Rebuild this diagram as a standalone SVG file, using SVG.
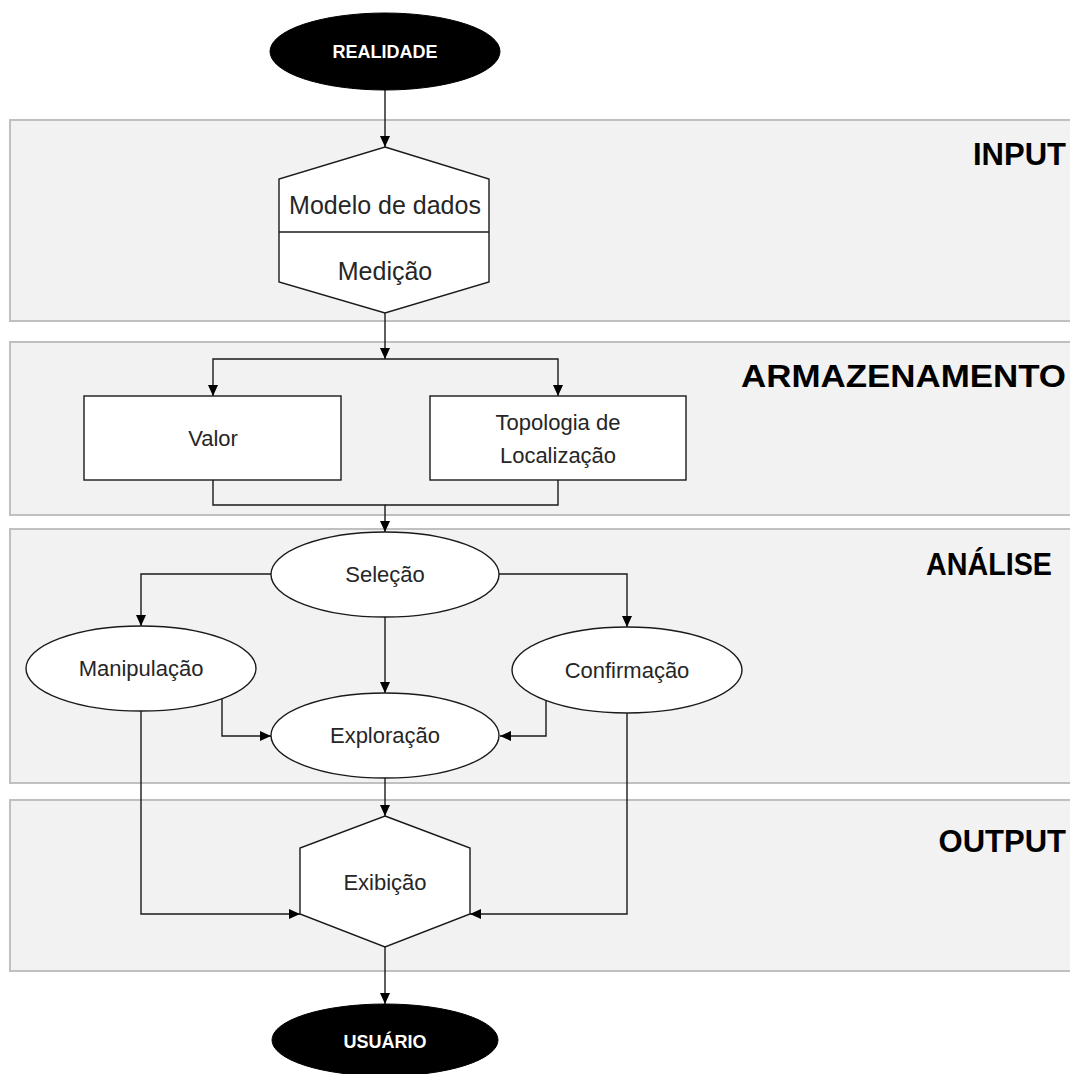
<svg xmlns="http://www.w3.org/2000/svg" width="1070" height="1074" viewBox="0 0 1070 1074">
<style>
.band{fill:#f2f2f2;stroke:#c0c0c0;stroke-width:2}
.node{fill:#ffffff;stroke:#1a1a1a;stroke-width:1.4}
.term{fill:#000000;stroke:#000000;stroke-width:1}
.lbl{font-family:"Liberation Sans",Arial,sans-serif;font-size:22px;fill:#262626;text-anchor:middle}
.big{font-family:"Liberation Sans",Arial,sans-serif;font-size:25px;fill:#262626;text-anchor:middle}
.term-t{font-family:"Liberation Sans",Arial,sans-serif;font-size:18px;font-weight:bold;fill:#ffffff;text-anchor:middle}
.title{font-family:"Liberation Sans",Arial,sans-serif;font-size:31px;font-weight:bold;fill:#000000;text-anchor:end}
.conn path{fill:none;stroke:#1a1a1a;stroke-width:1.4}
</style>
<defs>
<marker id="arr" markerUnits="userSpaceOnUse" markerWidth="11" markerHeight="10" refX="11" refY="5" orient="auto">
<path d="M0,0 L11,5 L0,10 z" fill="#000000"/>
</marker>
</defs>
<rect width="1070" height="1074" fill="#ffffff"/>
<g id="bands">
<g id="band-input"><rect class="band" x="10" y="120" width="1070" height="201"/><text class="title" x="1066" y="165">INPUT</text></g>
<g id="band-armazenamento"><rect class="band" x="10" y="342" width="1070" height="173"/><text class="title" x="1066" y="387" textLength="325" lengthAdjust="spacingAndGlyphs">ARMAZENAMENTO</text></g>
<g id="band-analise"><rect class="band" x="10" y="529" width="1070" height="254"/><text class="title" x="1052" y="575" textLength="126" lengthAdjust="spacingAndGlyphs">ANÁLISE</text></g>
<g id="band-output"><rect class="band" x="10" y="800" width="1070" height="171"/><text class="title" x="1066" y="852">OUTPUT</text></g>
</g>
<g class="conn" id="connectors">
<path d="M385,90 V147" marker-end="url(#arr)"/>
<path d="M385,313 V359" marker-end="url(#arr)"/>
<path d="M385,359 H213 V396" marker-end="url(#arr)"/>
<path d="M385,359 H558 V396" marker-end="url(#arr)"/>
<path d="M558,480 V505 H385"/>
<path d="M213,480 V505 H385 V532" marker-end="url(#arr)"/>
<path d="M271,574 H141 V626" marker-end="url(#arr)"/>
<path d="M499,574 H627 V627" marker-end="url(#arr)"/>
<path d="M385,617 V693" marker-end="url(#arr)"/>
<path d="M222,698 V736 H271" marker-end="url(#arr)"/>
<path d="M546,700 V736 H500" marker-end="url(#arr)"/>
<path d="M141,711 V914 H300" marker-end="url(#arr)"/>
<path d="M627,713 V914 H470" marker-end="url(#arr)"/>
<path d="M385,778 V816" marker-end="url(#arr)"/>
<path d="M385,947 V1004" marker-end="url(#arr)"/>
</g>
<g id="realidade"><ellipse class="term" cx="385" cy="51.5" rx="115" ry="38.5"/><text class="term-t" x="385" y="58">REALIDADE</text></g>
<g id="modelo"><path class="node" d="M385,147 L489,179 L489,282 L385,313 L279,282 L279,179 Z"/><path class="node" d="M279,232 H489" fill="none"/><text class="big" x="385" y="214">Modelo de dados</text><text class="big" x="385" y="280">Medição</text></g>
<g id="valor"><rect class="node" x="84" y="396" width="257" height="84"/><text class="lbl" x="213" y="446">Valor</text></g>
<g id="topologia"><rect class="node" x="430" y="396" width="256" height="84"/><text class="lbl" x="558" y="430">Topologia de</text><text class="lbl" x="558" y="463">Localização</text></g>
<g id="selecao"><ellipse class="node" cx="385" cy="574.5" rx="114" ry="42.5"/><text class="lbl" x="385" y="582">Seleção</text></g>
<g id="manipulacao"><ellipse class="node" cx="141" cy="668.5" rx="115" ry="42.5"/><text class="lbl" x="141" y="676">Manipulação</text></g>
<g id="confirmacao"><ellipse class="node" cx="627" cy="670" rx="115" ry="43"/><text class="lbl" x="627" y="678">Confirmação</text></g>
<g id="exploracao"><ellipse class="node" cx="385" cy="735.5" rx="114" ry="42.5"/><text class="lbl" x="385" y="743">Exploração</text></g>
<g id="exibicao"><path class="node" d="M385,816 L470,848 L470,914 L385,947 L300,914 L300,848 Z"/><text class="lbl" x="385" y="890">Exibição</text></g>
<g id="usuario"><ellipse class="term" cx="385" cy="1040" rx="113" ry="36"/><text class="term-t" x="385" y="1048">USUÁRIO</text></g>
</svg>
